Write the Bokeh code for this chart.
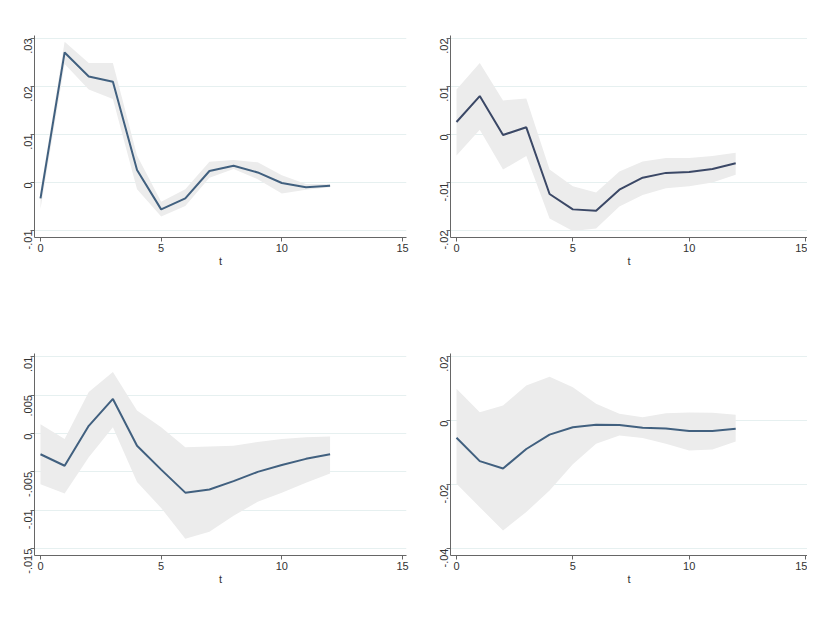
import math
from bokeh.plotting import figure
from bokeh.layouts import row, column
from bokeh.models import Range1d, FixedTicker, Legend, LegendItem, Label
from bokeh.embed import file_html
from bokeh.resources import INLINE

# ---------------- data ----------------
t = [0, 1, 2, 3, 4, 5, 6, 7, 8, 9, 10, 11, 12]

eur_irf = [-0.0033, 0.0271, 0.0221, 0.0210, 0.0026, -0.0056, -0.0033, 0.0024, 0.0035, 0.0021, -0.0001, -0.0010, -0.0007]
eur_hi = [-0.0018, 0.0293, 0.0249, 0.0249, 0.0056, -0.0040, -0.0014, 0.0043, 0.0047, 0.0042, 0.0015, -0.0003, -0.0003]
eur_lo = [-0.0055, 0.0247, 0.0194, 0.0174, -0.0014, -0.0071, -0.0049, 0.0010, 0.0028, 0.0007, -0.0023, -0.0015, -0.0010]

soy_irf = [0.0026, 0.0080, -0.0001, 0.0015, -0.0124, -0.0156, -0.0159, -0.0115, -0.0090, -0.0080, -0.0078, -0.0072, -0.0060]
soy_hi = [0.0094, 0.0149, 0.0071, 0.0075, -0.0073, -0.0108, -0.0121, -0.0077, -0.0056, -0.0049, -0.0049, -0.0045, -0.0038]
soy_lo = [-0.0044, 0.0010, -0.0073, -0.0045, -0.0175, -0.0201, -0.0196, -0.0150, -0.0126, -0.0112, -0.0108, -0.0100, -0.0084]

fish_irf = [-0.0027, -0.0042, 0.0010, 0.0045, -0.0016, -0.0047, -0.0077, -0.0073, -0.0062, -0.0050, -0.0041, -0.0033, -0.0027]
fish_hi = [0.0012, -0.0007, 0.0054, 0.0080, 0.0030, 0.0008, -0.0018, -0.0017, -0.0016, -0.0011, -0.0007, -0.0005, -0.0004]
fish_lo = [-0.0066, -0.0078, -0.0031, 0.0008, -0.0063, -0.0097, -0.0137, -0.0128, -0.0107, -0.0089, -0.0077, -0.0064, -0.0052]

vol_irf = [-0.0054, -0.0127, -0.0150, -0.0089, -0.0044, -0.0021, -0.0013, -0.0014, -0.0023, -0.0025, -0.0033, -0.0033, -0.0026]
vol_hi = [0.0099, 0.0026, 0.0047, 0.0109, 0.0137, 0.0104, 0.0052, 0.0021, 0.0010, 0.0023, 0.0025, 0.0024, 0.0018]
vol_lo = [-0.0198, -0.0271, -0.0344, -0.0286, -0.0219, -0.0137, -0.0073, -0.0047, -0.0055, -0.0073, -0.0094, -0.0091, -0.0066]

titles = ["EUR/NOK shock on spot price", "Soybean shock on spot price",
          "Fishmeal shock on spot price", "Volume shock on spot price"]

x_ticks = [0, 5, 10, 15]
eur_yticks = [-0.01, 0.0, 0.01, 0.02, 0.03]
eur_ylabels = ["-.01", "0", ".01", ".02", ".03"]
soy_yticks = [-0.02, -0.01, 0.0, 0.01, 0.02]
soy_ylabels = ["-.02", "-.01", "0", ".01", ".02"]
fish_yticks = [-0.015, -0.01, -0.005, 0.0, 0.005, 0.01]
fish_ylabels = ["-.015", "-.01", "-.005", "0", ".005", ".01"]
vol_yticks = [-0.04, -0.02, 0.0, 0.02]
vol_ylabels = ["-.04", "-.02", "0", ".02"]

legend_labels = ["95% CI", "IRF"]
x_label = "t"

FONT = "Liberation Sans"
FRAME_H = 202
LEGEND_W = 168


def make(title, irf, lo, hi, yticks, ylabels, yr, xr, w, h, mbl, mbr, mbt, line_color):
    frame_w = w - mbl - mbr
    p = figure(width=w, height=h, x_range=Range1d(*xr), y_range=Range1d(*yr),
               output_backend="svg", toolbar_location=None,
               min_border_left=mbl, min_border_right=mbr, min_border_top=mbt,
               min_border_bottom=h - mbt - FRAME_H)
    p.outline_line_alpha = 0

    band = p.varea(x=t, y1=lo, y2=hi, fill_color="#ececec", fill_alpha=1.0)
    ln = p.line(x=t, y=irf, line_color=line_color, line_width=2)

    p.xgrid.grid_line_alpha = 0
    p.ygrid.ticker = FixedTicker(ticks=yticks)
    p.ygrid.grid_line_color = "#e6f0f0"

    for ax in (p.xaxis[0], p.yaxis[0]):
        ax.axis_line_color = "#666666"
        ax.major_tick_line_color = "#666666"
        ax.major_tick_in = 0
        ax.major_tick_out = 4
        ax.minor_tick_line_color = None
        ax.major_label_text_font = FONT
        ax.major_label_text_font_size = "11px"
        ax.major_label_text_color = "#333333"
        ax.major_label_standoff = 2

    p.xaxis.ticker = FixedTicker(ticks=x_ticks)
    p.xaxis.axis_label = x_label
    p.xaxis.axis_label_text_font = FONT
    p.xaxis.axis_label_text_font_size = "11px"
    p.xaxis.axis_label_text_font_style = "normal"
    p.xaxis.axis_label_text_color = "#333333"
    p.xaxis.axis_label_standoff = 0

    p.yaxis.ticker = FixedTicker(ticks=yticks)
    p.yaxis.major_label_overrides = {v: s for v, s in zip(yticks, ylabels)}
    p.yaxis.major_label_orientation = math.pi / 2

    # title drawn as a label centred above the frame
    p.add_layout(Label(x=frame_w / 2, y=FRAME_H + 13, x_units="screen", y_units="screen",
                       text=title, text_align="center", text_baseline="middle",
                       text_font=FONT, text_font_size="14px", text_color="#3d4660"))

    # legend placed below the x axis, centred under the frame
    legend = Legend(items=[LegendItem(label=legend_labels[0], renderers=[band]),
                           LegendItem(label=legend_labels[1], renderers=[ln])],
                    orientation="horizontal",
                    location=((frame_w - LEGEND_W) / 2, -53))
    legend.label_text_font = FONT
    legend.label_text_font_size = "11px"
    legend.label_text_color = "#444444"
    legend.glyph_width = 39
    legend.glyph_height = 10
    legend.label_height = 10
    legend.label_standoff = 7
    legend.spacing = 14
    legend.padding = 4
    legend.border_line_color = "#888888"
    legend.border_line_width = 1
    legend.background_fill_color = "white"
    p.add_layout(legend)
    return p


# left column: frame 42..414 (0 at 48, 15 at 410); right column: frame 458..815
xr_left = (-0.2486, 15.166)
xr_right = (-0.258, 15.086)

p1 = make(titles[0], eur_irf, eur_lo, eur_hi, eur_yticks, eur_ylabels,
          (-0.01146, 0.030625), xr_left, 412, 312, 34, 6, 35, "#41607f")
p2 = make(titles[1], soy_irf, soy_lo, soy_hi, soy_yticks, soy_ylabels,
          (-0.02146, 0.020625), xr_right, 395, 312, 38, 0, 35, "#3b4866")
p3 = make(titles[2], fish_irf, fish_lo, fish_hi, fish_yticks, fish_ylabels,
          (-0.015885, 0.010417), xr_left, 412, 296, 34, 6, 41, "#41607f")
p4 = make(titles[3], vol_irf, vol_lo, vol_hi, vol_yticks, vol_ylabels,
          (-0.042188, 0.020938), xr_right, 395, 296, 38, 0, 41, "#41607f")

lay = column(row(p1, p2), row(p3, p4))

open("out.html", "w").write(file_html(lay, INLINE))
